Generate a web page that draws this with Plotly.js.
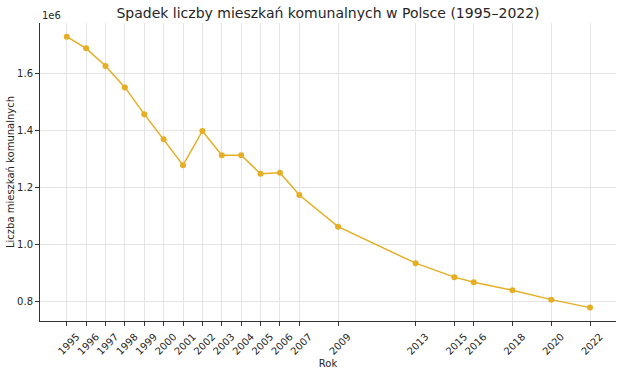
<!DOCTYPE html>
<html>
<head>
<meta charset="utf-8">
<script src="https://cdn.plot.ly/plotly-3.0.1.min.js"></script>
<style>html,body{margin:0;padding:0;background:#fff;}#chart{width:622px;height:371px;}</style>
</head>
<body>
<div id="chart"></div>
<script>
const years = [1995,1996,1997,1998,1999,2000,2001,2002,2003,2004,2005,2006,2007,2009,2013,2015,2016,2018,2020,2022];
const dwellings = [1730000,1689000,1627000,1552000,1458000,1370000,1279000,1399000,1314000,1314000,1249000,1252000,1174000,1063000,935000,886000,868000,840000,807000,779000];
const yTickVals = [800000,1000000,1200000,1400000,1600000];
const yTickText = ['0.8','1.0','1.2','1.4','1.6'];
const titleText = 'Spadek liczby mieszkań komunalnych w Polsce (1995–2022)';
const xTitle = 'Rok';
const yTitle = 'Liczba mieszkań komunalnych';

const color = '#E6AE24';
const font = 'DejaVu Sans, sans-serif';
const txt = '#262626';

const trace = {
  x: years, y: dwellings, type: 'scatter', mode: 'lines+markers',
  line: {color: color, width: 1.5},
  marker: {color: color, size: 6},
  hoverinfo: 'skip'
};

const layout = {
  width: 622, height: 371,
  margin: {l: 40, r: 6, t: 23, b: 50},
  paper_bgcolor: '#fff', plot_bgcolor: '#fff',
  font: {family: font, color: txt, size: 10},
  showlegend: false,
  title: {text: titleText, font: {size: 14, family: font, color: txt}, x: 0.5, xref: 'paper', y: 1 - 13/371, yref: 'container', yanchor: 'middle'},
  xaxis: {
    range: [1993.62, 2023.34],
    tickmode: 'array', tickvals: years, ticktext: years.map(String),
    tickangle: -45, tickfont: {size: 10, family: font, color: txt},
    ticklabelshift: 10, ticklabelstandoff: 1,
    ticks: 'outside', ticklen: 4, tickcolor: '#333',
    showline: true, linecolor: '#333', linewidth: 1,
    showgrid: true, gridcolor: '#e4e4e4', gridwidth: 1,
    zeroline: false,
    title: {text: xTitle, font: {size: 10, family: font, color: txt}, standoff: 4}
  },
  yaxis: {
    range: [732000, 1778000],
    tickmode: 'array', tickvals: yTickVals, ticktext: yTickText,
    tickfont: {size: 10, family: font, color: txt},
    ticks: 'outside', ticklen: 4, tickcolor: '#333',
    showline: true, linecolor: '#333', linewidth: 1,
    showgrid: true, gridcolor: '#e4e4e4', gridwidth: 1,
    zeroline: false,
    title: {text: yTitle, font: {size: 10, family: font, color: txt}, standoff: 0}
  },
  annotations: [{
    text: '1e6', xref: 'paper', yref: 'paper', x: 0, y: 1, xanchor: 'left', yanchor: 'bottom',
    showarrow: false, font: {size: 10, family: font, color: txt}, yshift: 0
  }]
};

Plotly.newPlot('chart', [trace], layout, {displayModeBar: false, staticPlot: true});
</script>
</body>
</html>
